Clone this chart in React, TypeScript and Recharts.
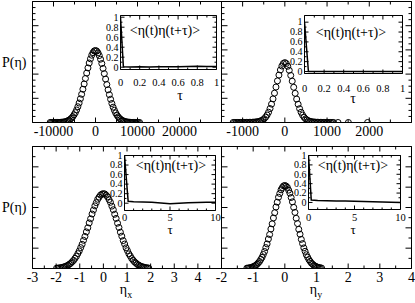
import React from "react";
import { ScatterChart, Scatter, LineChart, Line, XAxis, YAxis } from "recharts";

const FONT = "'Liberation Serif', 'Times New Roman', serif";

// top-left panel: eta (large scale)
const tlEta = [
  -10800, -10500, -10200, -9900, -9600, -9300, -9000, -8700, -8400, -8100, -7800, -7500, -7200, -6900, -6600,
  -6300, -6000, -5700, -5400, -5100, -4800, -4500, -4200, -3900, -3600, -3300, -3000, -2700, -2400, -2100,
  -1800, -1500, -1200, -900, -600, -300, 0, 300, 600, 900, 1200, 1500, 1800, 2100, 2400, 2700, 3000, 3300,
  3600, 3900, 4200, 4500, 4800, 5100, 5400, 5700, 6000, 6300, 6600, 6900, 7200, 7500, 7800, 8100, 8400, 8700,
  9000, 9300, 9600, 9900, 10200, 10500,
];
const tlP = [
  0.0001, 0.0002, 0.0001, 0.0002, 0.0004, 0.0006, 0.0009, 0.0015, 0.0023, 0.0035, 0.005, 0.0078, 0.011, 0.016,
  0.024, 0.033, 0.045, 0.061, 0.081, 0.107, 0.137, 0.174, 0.219, 0.27, 0.329, 0.392, 0.462, 0.535, 0.611, 0.686,
  0.758, 0.826, 0.884, 0.934, 0.97, 0.993, 1.0, 0.991, 0.967, 0.929, 0.879, 0.819, 0.751, 0.678, 0.603, 0.527,
  0.454, 0.386, 0.322, 0.264, 0.213, 0.17, 0.133, 0.103, 0.079, 0.059, 0.043, 0.031, 0.022, 0.016, 0.011, 0.0074,
  0.005, 0.0033, 0.0021, 0.0014, 0.0009, 0.0006, 0.0004, 0.0002, 0.0001, 0.0001,
];

// top-right panel
const trEta = [
  -1225, -1190, -1155, -1120, -1085, -1050, -1015, -980, -945, -910, -875, -840, -805, -770, -735, -700, -665,
  -630, -595, -560, -525, -490, -455, -420, -385, -350, -315, -280, -245, -210, -175, -140, -105, -70, -35, 0, 35,
  70, 105, 140, 175, 210, 245, 280, 315, 350, 385, 420, 455, 490, 525, 560, 595, 630, 665, 700, 735, 770, 805, 840,
  875, 910, 945, 980, 1015, 1050, 1085, 1120, 1155, 1260, 1505, 1960,
];
const trP = [
  0.0002, 0.0002, 0.0003, 0.0004, 0.0005, 0.0006, 0.0008, 0.001, 0.0012, 0.0016, 0.002, 0.0027, 0.0035, 0.0046,
  0.0061, 0.0082, 0.011, 0.015, 0.021, 0.03, 0.043, 0.062, 0.089, 0.125, 0.172, 0.233, 0.307, 0.394, 0.49, 0.592,
  0.695, 0.792, 0.877, 0.943, 0.986, 1.0, 0.984, 0.939, 0.871, 0.786, 0.69, 0.588, 0.487, 0.391, 0.305, 0.231,
  0.171, 0.124, 0.088, 0.061, 0.042, 0.029, 0.02, 0.014, 0.01, 0.0075, 0.0056, 0.0042, 0.0032, 0.0025, 0.0019,
  0.0015, 0.0011, 0.0009, 0.0007, 0.0005, 0.0004, 0.0003, 0.0003, 0.0002, 0.0001, 0.0001,
];

// bottom-left panel: eta_x
const blEta = [
  -1.98, -1.92, -1.86, -1.8, -1.74, -1.68, -1.62, -1.56, -1.5, -1.44, -1.38, -1.32, -1.26, -1.2, -1.14, -1.08,
  -1.02, -0.96, -0.9, -0.84, -0.78, -0.72, -0.66, -0.6, -0.54, -0.48, -0.42, -0.36, -0.3, -0.24, -0.18, -0.12,
  -0.06, 0, 0.06, 0.12, 0.18, 0.24, 0.3, 0.36, 0.42, 0.48, 0.54, 0.6, 0.66, 0.72, 0.78, 0.84, 0.9, 0.96, 1.02,
  1.08, 1.14, 1.2, 1.26, 1.32, 1.38, 1.44, 1.5, 1.56, 1.62, 1.68, 1.74, 1.8, 1.86, 1.92,
];
const blP = [
  0.0045, 0.0062, 0.0081, 0.0112, 0.0148, 0.0203, 0.0257, 0.0345, 0.0436, 0.0566, 0.0704, 0.0897, 0.109, 0.136,
  0.163, 0.199, 0.235, 0.279, 0.323, 0.377, 0.428, 0.489, 0.544, 0.609, 0.665, 0.728, 0.781, 0.837, 0.88, 0.925,
  0.954, 0.981, 0.994, 1.0, 0.996, 0.979, 0.957, 0.921, 0.884, 0.833, 0.785, 0.724, 0.669, 0.605, 0.548, 0.485,
  0.432, 0.373, 0.327, 0.276, 0.238, 0.196, 0.166, 0.133, 0.111, 0.088, 0.072, 0.055, 0.045, 0.033, 0.027, 0.019,
  0.0155, 0.0108, 0.0085, 0.0058,
];

// bottom-right panel: eta_y
const brEta = [
  -1.2, -1.16, -1.12, -1.08, -1.04, -1, -0.96, -0.92, -0.88, -0.84, -0.8, -0.76, -0.72, -0.68, -0.64, -0.6, -0.56,
  -0.52, -0.48, -0.44, -0.4, -0.36, -0.32, -0.28, -0.24, -0.2, -0.16, -0.12, -0.08, -0.04, 0, 0.04, 0.08, 0.12,
  0.16, 0.2, 0.24, 0.28, 0.32, 0.36, 0.4, 0.44, 0.48, 0.52, 0.56, 0.6, 0.64, 0.68, 0.72, 0.76, 0.8, 0.84, 0.88,
  0.92, 0.96, 1, 1.04, 1.08, 1.12, 1.16,
];
const brP = [
  0.004, 0.0056, 0.0077, 0.0112, 0.0152, 0.0214, 0.0286, 0.0385, 0.0496, 0.0665, 0.0843, 0.109, 0.134, 0.169,
  0.205, 0.252, 0.296, 0.355, 0.409, 0.476, 0.538, 0.609, 0.672, 0.741, 0.799, 0.859, 0.904, 0.948, 0.975, 0.995,
  1.0, 0.993, 0.977, 0.944, 0.908, 0.855, 0.803, 0.737, 0.676, 0.605, 0.542, 0.472, 0.413, 0.351, 0.3, 0.248,
  0.207, 0.166, 0.136, 0.107, 0.086, 0.065, 0.051, 0.037, 0.0295, 0.0205, 0.0158, 0.0108, 0.0079, 0.0054,
];

// autocorrelation insets
const tlTau = [0, 0.03, 0.1, 0.2, 0.3, 0.4, 0.5, 0.6, 0.7, 0.8, 0.9, 1.0];
const tlCorr = [1, 0.01, 0.006, 0.008, 0.004, 0.007, 0.01, 0.008, 0.012, 0.02, 0.016, 0.012];
const trTau = [0, 0.04, 0.2, 0.4, 0.6, 0.8, 1.0];
const trCorr = [1, 0.0, 0.002, 0.0, 0.001, 0.0, 0.001];
const blTau = [0, 0.4, 1, 2, 3, 4, 5, 6, 7, 8, 9, 10];
const blCorr = [1, 0.04, 0.03, 0.025, 0.02, 0.005, -0.01, 0.0, 0.01, 0.015, 0.02, 0.02];
const brTau = [0, 0.3, 1, 2, 3, 4, 5, 6, 7, 8, 9, 10];
const brCorr = [1, 0.05, 0.04, 0.035, 0.03, 0.03, 0.025, 0.02, 0.015, 0.01, 0.005, 0.0];

const unitTicks = [0, 0.1, 0.2, 0.3, 0.4, 0.5, 0.6, 0.7, 0.8, 0.9, 1];
const unitMajor = [0, 0.2, 0.4, 0.6, 0.8, 1];
const tenTicks = [0, 1, 2, 3, 4, 5, 6, 7, 8, 9, 10];

// axes are 1px thick boxes; margins put the frame lines on half pixels
const M = { top: 19.5, left: 19.5, right: 18.5, bottom: 18.5 };
const AX = { stroke: "#000", strokeWidth: 1 };

const has = (a: number[], v: number) => a.some((q) => Math.abs(q - v) < 1e-6 * Math.max(1, Math.abs(q)));

type TickCfg = {
  side: "b" | "t" | "l" | "r";
  major: number[];
  labels?: number[];
  big: number;
  small: number;
  fs?: number;
  off?: number;
};

function makeTick(c: TickCfg) {
  return (p: any) => {
    const v = p.payload.value;
    const len = has(c.major, v) ? c.big : c.small;
    const x = p.x;
    const y = p.y;
    const lab = c.labels ? has(c.labels, v) : false;
    let ln: any;
    let tx: any = null;
    if (c.side === "b") {
      ln = <line x1={x} x2={x} y1={y} y2={y - len} stroke="#000" />;
      if (lab)
        tx = (
          <text x={x} y={y + (c.off ?? 14)} textAnchor="middle" fontSize={c.fs} fontFamily={FONT} fill="#000">
            {String(v)}
          </text>
        );
    } else if (c.side === "t") {
      ln = <line x1={x} x2={x} y1={y} y2={y + len} stroke="#000" />;
    } else if (c.side === "l") {
      ln = <line x1={x} x2={x + len} y1={y} y2={y} stroke="#000" />;
      if (lab)
        tx = (
          <text x={x - (c.off ?? 2)} y={y + (c.fs ?? 11) * 0.33} textAnchor="end" fontSize={c.fs} fontFamily={FONT} fill="#000">
            {String(v)}
          </text>
        );
    } else {
      ln = <line x1={x} x2={x - len} y1={y} y2={y} stroke="#000" />;
    }
    return (
      <g>
        {ln}
        {tx}
      </g>
    );
  };
}

function Ring(p: any) {
  return <circle cx={p.cx} cy={p.cy} r={3} fill="none" stroke="#000" strokeWidth={1} />;
}

type PanelProps = {
  x: number;
  y: number;
  w: number;
  h: number;
  eta: number[];
  p: number[];
  xDomain: [number, number];
  xTicks: number[];
  xMajor: number[];
  xLabels: number[];
  yMax: number;
  yN: number;
  yEvery: number;
  rightTicks: boolean;
};

function Panel(pr: PanelProps) {
  const data = pr.eta.map((e, i) => ({ x: e, y: pr.p[i] }));
  const yTicks = Array.from({ length: pr.yN + 1 }, (_, k) => (pr.yMax * k) / pr.yN);
  const yMajor = yTicks.filter((_, k) => k % pr.yEvery === 0);
  return (
    <div style={{ position: "absolute", left: pr.x - 20, top: pr.y - 20 }}>
      <ScatterChart width={pr.w + 40} height={pr.h + 40} margin={M}>
        <XAxis
          xAxisId="b"
          type="number"
          dataKey="x"
          domain={pr.xDomain}
          ticks={pr.xTicks}
          interval={0}
          height={1}
          tickSize={0}
          tickMargin={0}
          axisLine={AX}
          tickLine={false}
          allowDataOverflow
          tick={makeTick({ side: "b", major: pr.xMajor, labels: pr.xLabels, big: 5, small: 3, fs: 14, off: 13 })}
        />
        <XAxis
          xAxisId="t"
          orientation="top"
          type="number"
          dataKey="x"
          domain={pr.xDomain}
          ticks={pr.xTicks}
          interval={0}
          height={1}
          tickSize={0}
          tickMargin={0}
          axisLine={AX}
          tickLine={false}
          allowDataOverflow
          tick={makeTick({ side: "t", major: pr.xMajor, big: 5, small: 3 })}
        />
        <YAxis
          yAxisId="l"
          type="number"
          dataKey="y"
          domain={[0, pr.yMax]}
          ticks={yTicks}
          interval={0}
          width={1}
          tickSize={0}
          tickMargin={0}
          axisLine={AX}
          tickLine={false}
          allowDataOverflow
          tick={makeTick({ side: "l", major: yMajor, big: 6, small: 3 })}
        />
        <YAxis
          yAxisId="r"
          orientation="right"
          type="number"
          dataKey="y"
          domain={[0, pr.yMax]}
          ticks={yTicks}
          interval={0}
          width={1}
          tickSize={0}
          tickMargin={0}
          axisLine={AX}
          tickLine={false}
          allowDataOverflow
          tick={pr.rightTicks ? makeTick({ side: "r", major: yMajor, big: 6, small: 3 }) : false}
        />
        <Scatter data={data} xAxisId="b" yAxisId="l" shape={Ring} isAnimationActive={false} />
        <Scatter data={data} xAxisId="t" yAxisId="r" shape={() => <g />} isAnimationActive={false} />
      </ScatterChart>
    </div>
  );
}

type InsetProps = {
  x: number;
  y: number;
  w: number;
  h: number;
  tau: number[];
  corr: number[];
  xTicks: number[];
  xMajor: number[];
  yDomain: [number, number];
  labOff: number;
};

function Inset(pr: InsetProps) {
  const data = pr.tau.map((t, i) => ({ t, c: pr.corr[i] }));
  const xMax = pr.xTicks[pr.xTicks.length - 1];
  return (
    <div style={{ position: "absolute", left: pr.x - 20, top: pr.y - 20 }}>
      <LineChart width={pr.w + 40} height={pr.h + 40} margin={M} data={data}>
        <XAxis
          xAxisId="b"
          type="number"
          dataKey="t"
          domain={[0, xMax]}
          ticks={pr.xTicks}
          interval={0}
          height={1}
          tickSize={0}
          tickMargin={0}
          axisLine={AX}
          tickLine={false}
          allowDataOverflow
          tick={makeTick({ side: "b", major: pr.xMajor, labels: pr.xMajor, big: 4, small: 2, fs: 10.5, off: pr.labOff })}
        />
        <XAxis
          xAxisId="t"
          orientation="top"
          type="number"
          dataKey="t"
          domain={[0, xMax]}
          ticks={pr.xTicks}
          interval={0}
          height={1}
          tickSize={0}
          tickMargin={0}
          axisLine={AX}
          tickLine={false}
          allowDataOverflow
          tick={makeTick({ side: "t", major: pr.xMajor, big: 4, small: 2 })}
        />
        <YAxis
          yAxisId="l"
          type="number"
          domain={pr.yDomain}
          ticks={unitTicks}
          interval={0}
          width={1}
          tickSize={0}
          tickMargin={0}
          axisLine={AX}
          tickLine={false}
          allowDataOverflow
          tick={makeTick({ side: "l", major: unitMajor, labels: unitMajor, big: 4, small: 2, fs: 10, off: 2 })}
        />
        <YAxis
          yAxisId="r"
          orientation="right"
          type="number"
          domain={pr.yDomain}
          ticks={unitTicks}
          interval={0}
          width={1}
          tickSize={0}
          tickMargin={0}
          axisLine={AX}
          tickLine={false}
          allowDataOverflow
          tick={makeTick({ side: "r", major: unitMajor, big: 4, small: 2 })}
        />
        <Line
          xAxisId="b"
          yAxisId="l"
          type="linear"
          dataKey="c"
          stroke="#000"
          strokeWidth={1.5}
          dot={false}
          isAnimationActive={false}
        />
        <Line xAxisId="t" yAxisId="r" dataKey="c" stroke="none" dot={false} isAnimationActive={false} />
      </LineChart>
    </div>
  );
}

const TITLE = "<η(t)η(t+τ)>";

export default function App() {
  return (
    <div
      style={{
        position: "absolute",
        left: 0,
        top: 0,
        width: 415,
        height: 303,
        overflow: "hidden",
        background: "#fff",
        fontFamily: FONT,
      }}
    >
      <Panel
        x={32}
        y={1}
        w={189}
        h={121}
        eta={tlEta}
        p={tlP}
        xDomain={[-15000, 30000]}
        xTicks={[-15000, -10000, -5000, 0, 5000, 10000, 15000, 20000, 25000, 30000]}
        xMajor={[-10000, 0, 10000, 20000, 30000]}
        xLabels={[-10000, 0, 10000, 20000]}
        yMax={1.68}
        yN={20}
        yEvery={4}
        rightTicks={false}
      />
      <Panel
        x={221}
        y={1}
        w={190}
        h={121}
        eta={trEta}
        p={trP}
        xDomain={[-1500, 3000]}
        xTicks={[-1500, -1000, -500, 0, 500, 1000, 1500, 2000, 2500, 3000]}
        xMajor={[-1000, 0, 1000, 2000, 3000]}
        xLabels={[-1000, 0, 1000, 2000]}
        yMax={2.02}
        yN={20}
        yEvery={4}
        rightTicks={true}
      />
      <Panel
        x={32}
        y={146}
        w={189}
        h={122}
        eta={blEta}
        p={blP}
        xDomain={[-3, 5]}
        xTicks={[-3, -2.5, -2, -1.5, -1, -0.5, 0, 0.5, 1, 1.5, 2, 2.5, 3, 3.5, 4, 4.5, 5]}
        xMajor={[-3, -2, -1, 0, 1, 2, 3, 4, 5]}
        xLabels={[-3, -2, -1, 0, 1, 2, 3, 4]}
        yMax={1.63}
        yN={12}
        yEvery={2}
        rightTicks={false}
      />
      <Panel
        x={221}
        y={146}
        w={190}
        h={122}
        eta={brEta}
        p={brP}
        xDomain={[-2, 4]}
        xTicks={[-2, -1.5, -1, -0.5, 0, 0.5, 1, 1.5, 2, 2.5, 3, 3.5, 4]}
        xMajor={[-2, -1, 0, 1, 2, 3, 4]}
        xLabels={[-2, -1, 0, 1, 2, 3, 4]}
        yMax={1.47}
        yN={12}
        yEvery={2}
        rightTicks={true}
      />
      <Inset x={120} y={15} w={96} h={54} tau={tlTau} corr={tlCorr} xTicks={unitTicks} xMajor={unitMajor} yDomain={[-0.046, 1.034]} labOff={16.5} />
      <Inset x={304} y={15} w={98} h={58} tau={trTau} corr={trCorr} xTicks={unitTicks} xMajor={unitMajor} yDomain={[-0.04, 1.135]} labOff={18} />
      <Inset x={124} y={155} w={91} h={55} tau={blTau} corr={blCorr} xTicks={tenTicks} xMajor={[0, 5, 10]} yDomain={[-0.153, 1]} labOff={10} />
      <Inset x={308} y={155} w={92} h={54} tau={brTau} corr={brCorr} xTicks={tenTicks} xMajor={[0, 5, 10]} yDomain={[-0.15, 1]} labOff={11} />
      <svg
        width={415}
        height={303}
        style={{ position: "absolute", left: 0, top: 0, pointerEvents: "none" }}
        fontFamily={FONT}
        fill="#000"
      >
        <text x={2} y={67} fontSize={14}>P(η)</text>
        <text x={2} y={212} fontSize={14}>P(η)</text>
        <text x={126} y={294} fontSize={14} textAnchor="middle">
          η<tspan fontSize={10} dy={4}>x</tspan>
        </text>
        <text x={316} y={294} fontSize={14} textAnchor="middle">
          η<tspan fontSize={10} dy={4}>y</tspan>
        </text>
        <text x={165} y={35} fontSize={14} textAnchor="middle">{TITLE}</text>
        <text x={351} y={37} fontSize={14} textAnchor="middle">{TITLE}</text>
        <text x={171} y={170} fontSize={14} textAnchor="middle">{TITLE}</text>
        <text x={353} y={170} fontSize={14} textAnchor="middle">{TITLE}</text>
        <text x={180} y={100} fontSize={14} textAnchor="middle">τ</text>
        <text x={353} y={103} fontSize={14} textAnchor="middle">τ</text>
        <text x={170} y={234} fontSize={13} textAnchor="middle">τ</text>
        <text x={353} y={234} fontSize={13} textAnchor="middle">τ</text>
      </svg>
    </div>
  );
}
